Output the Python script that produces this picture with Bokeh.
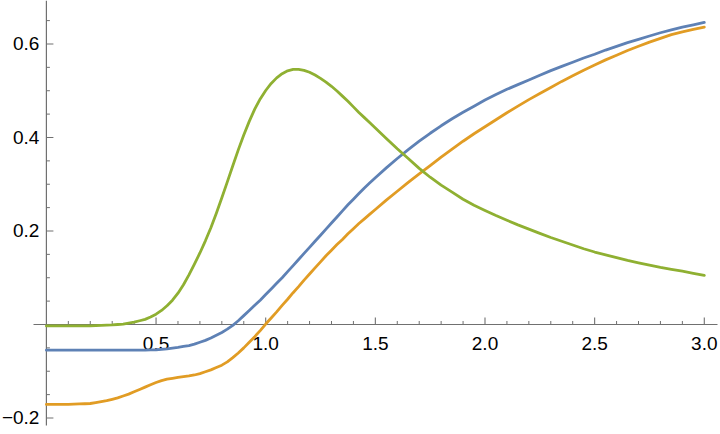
from bokeh.plotting import figure
from bokeh.models import Range1d, ColumnDataSource
from bokeh.embed import file_html
from bokeh.resources import INLINE
from bokeh.core.properties import value

# ---------------- data ----------------
x = [0.00, 0.05, 0.10, 0.15, 0.175, 0.20, 0.225, 0.25, 0.275, 0.30, 0.325, 0.35, 0.375,
     0.40, 0.425, 0.45, 0.475, 0.50, 0.525, 0.55, 0.575, 0.60, 0.625, 0.65, 0.675,
     0.70, 0.725, 0.75, 0.775, 0.80, 0.825, 0.85, 0.875, 0.90, 0.925, 0.95, 0.975,
     1.00, 1.025, 1.05, 1.075, 1.10, 1.125, 1.15, 1.175, 1.20, 1.225, 1.25, 1.275,
     1.30, 1.325, 1.35, 1.375, 1.40, 1.425, 1.45, 1.475,
     1.50, 1.55, 1.60, 1.65, 1.70, 1.75, 1.80, 1.85, 1.90, 1.95,
     2.00, 2.05, 2.10, 2.15, 2.20, 2.25, 2.30, 2.35, 2.40, 2.45,
     2.50, 2.55, 2.60, 2.65, 2.70, 2.75, 2.80, 2.85, 2.90, 2.95,
     3.00]

blue = [-0.055, -0.055, -0.055, -0.055, -0.055, -0.055, -0.055, -0.055, -0.055, -0.055, -0.055, -0.055, -0.055,
        -0.055, -0.055, -0.055, -0.0545, -0.054, -0.053, -0.052, -0.0505, -0.049, -0.047, -0.045, -0.042,
        -0.038, -0.034, -0.029, -0.023, -0.017, -0.010, -0.002, 0.008, 0.019, 0.030, 0.041, 0.052,
        0.064, 0.076, 0.088, 0.100, 0.113, 0.126, 0.139, 0.152, 0.165, 0.178, 0.191, 0.204,
        0.217, 0.230, 0.243, 0.256, 0.268, 0.280, 0.292, 0.303,
        0.314, 0.335, 0.355, 0.374, 0.392, 0.409, 0.425, 0.440, 0.454, 0.467,
        0.480, 0.492, 0.503, 0.513, 0.523, 0.533, 0.543, 0.552, 0.561, 0.570,
        0.578, 0.587, 0.595, 0.603, 0.610, 0.617, 0.624, 0.630, 0.636, 0.641,
        0.646]

orange = [-0.171, -0.171, -0.171, -0.170, -0.1695, -0.169, -0.167, -0.165, -0.163, -0.160, -0.157, -0.153, -0.149,
          -0.144, -0.139, -0.134, -0.129, -0.124, -0.120, -0.117, -0.115, -0.113, -0.1115, -0.110, -0.108,
          -0.105, -0.101, -0.097, -0.092, -0.087, -0.080, -0.071, -0.061, -0.050, -0.038, -0.026, -0.013,
          0.001, 0.014, 0.027, 0.041, 0.054, 0.068, 0.081, 0.095, 0.108, 0.121, 0.134, 0.147,
          0.159, 0.171, 0.182, 0.194, 0.205, 0.216, 0.226, 0.236,
          0.246, 0.266, 0.285, 0.304, 0.322, 0.340, 0.358, 0.375, 0.392, 0.408,
          0.423, 0.438, 0.453, 0.467, 0.481, 0.494, 0.507, 0.520, 0.532, 0.544,
          0.555, 0.566, 0.576, 0.586, 0.595, 0.604, 0.612, 0.620, 0.626, 0.631,
          0.636]

green = [-0.003, -0.003, -0.003, -0.003, -0.003, -0.003, -0.0025, -0.002, -0.0015, -0.001, 0.000, 0.001, 0.003,
         0.005, 0.008, 0.011, 0.016, 0.022, 0.030, 0.040, 0.052, 0.067, 0.085, 0.106, 0.129,
         0.153, 0.179, 0.207, 0.238, 0.271, 0.305, 0.3395, 0.3735, 0.4055, 0.4345, 0.4605, 0.4825,
         0.5005, 0.5155, 0.5275, 0.5365, 0.5425, 0.5455, 0.5455, 0.5435, 0.5395, 0.5335, 0.5265, 0.5185,
         0.5095, 0.4995, 0.4885, 0.4775, 0.4655, 0.4535, 0.4425, 0.4315,
         0.4205, 0.398, 0.376, 0.355, 0.334, 0.315, 0.298, 0.283, 0.268, 0.255,
         0.244, 0.233, 0.223, 0.213, 0.204, 0.195, 0.186, 0.178, 0.170, 0.162,
         0.155, 0.149, 0.143, 0.137, 0.132, 0.127, 0.122, 0.118, 0.114, 0.1095,
         0.105]

x_major = [0.5, 1.0, 1.5, 2.0, 2.5, 3.0]
x_labels = ["0.5", "1.0", "1.5", "2.0", "2.5", "3.0"]
x_minor = [0.1, 0.2, 0.3, 0.4, 0.6, 0.7, 0.8, 0.9, 1.1, 1.2, 1.3, 1.4,
           1.6, 1.7, 1.8, 1.9, 2.1, 2.2, 2.3, 2.4, 2.6, 2.7, 2.8, 2.9]

y_major = [-0.2, 0.2, 0.4, 0.6]
y_labels = ["\u22120.2", "0.2", "0.4", "0.6"]
y_minor = [-0.15, -0.1, -0.05, 0.05, 0.1, 0.15, 0.25, 0.3, 0.35, 0.45, 0.5, 0.55, 0.65]

# ---------------- layout / style ----------------
W, H = 720, 434
X0, X1 = -0.2093, 3.0739
Y0, Y1 = -0.2353, 0.6930
px_x = (X1 - X0) / W   # data units per pixel (x)
px_y = (Y1 - Y0) / H   # data units per pixel (y)

AXIS_COLOR = "#707070"
LABEL_COLOR = "#000000"
FONT = "Liberation Sans"
FSIZE = "19px"

p = figure(width=W, height=H, x_range=Range1d(X0, X1), y_range=Range1d(Y0, Y1),
           output_backend="svg", toolbar_location=None,
           x_axis_type=None, y_axis_type=None, min_border=0)
p.outline_line_color = None
p.background_fill_color = "white"
p.border_fill_color = "white"

# axis lines
p.segment(x0=[X0 + 33 * px_x], y0=[0], x1=[X0 + 717 * px_x], y1=[0],
          line_color=AXIS_COLOR, line_width=1.2)
p.segment(x0=[0], y0=[Y0 + 9 * px_y], x1=[0], y1=[Y1],
          line_color=AXIS_COLOR, line_width=1.2)

# x ticks (pointing up)
p.segment(x0=x_major, y0=[0] * len(x_major), x1=x_major, y1=[7 * px_y] * len(x_major),
          line_color=AXIS_COLOR, line_width=1.1)
p.segment(x0=x_minor, y0=[0] * len(x_minor), x1=x_minor, y1=[3.5 * px_y] * len(x_minor),
          line_color=AXIS_COLOR, line_width=1.0)
# y ticks (pointing right)
p.segment(x0=[0] * len(y_major), y0=y_major, x1=[7 * px_x] * len(y_major), y1=y_major,
          line_color=AXIS_COLOR, line_width=1.1)
p.segment(x0=[0] * len(y_minor), y0=y_minor, x1=[3.5 * px_x] * len(y_minor), y1=y_minor,
          line_color=AXIS_COLOR, line_width=1.0)

# tick labels
xl = ColumnDataSource(dict(x=x_major, y=[0] * len(x_major), t=x_labels))
p.text(x="x", y="y", text="t", source=xl, text_align="center", text_baseline="middle",
       y_offset=19, text_font=value(FONT), text_font_size=FSIZE, text_color=LABEL_COLOR)
yl = ColumnDataSource(dict(x=[0] * len(y_major), y=y_major, t=y_labels))
p.text(x="x", y="y", text="t", source=yl, text_align="right", text_baseline="middle",
       x_offset=-7, text_font=value(FONT), text_font_size=FSIZE, text_color=LABEL_COLOR)

# curves
p.line(x, blue, line_color="#5E81B5", line_width=2.8, line_join="round", line_cap="round")
p.line(x, orange, line_color="#E19C24", line_width=2.8, line_join="round", line_cap="round")
p.line(x, green, line_color="#8FB032", line_width=2.8, line_join="round", line_cap="round")

open("out.html", "w").write(file_html(p, INLINE))
